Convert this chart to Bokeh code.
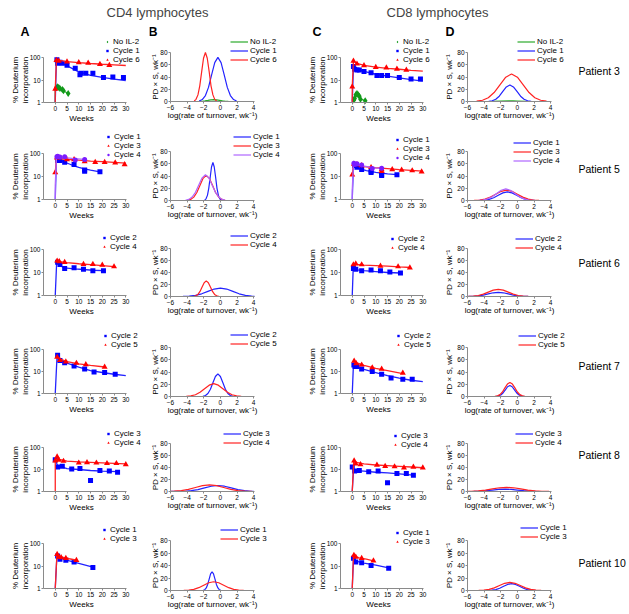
import math
from bokeh.plotting import figure
from bokeh.layouts import column, row
from bokeh.models import Legend, LegendItem, Label, FixedTicker, Range1d
from bokeh.embed import file_html
from bokeh.resources import INLINE

FONT = "Liberation Sans"

# ---------------- tick labels / text ----------------
PANEL_TITLES = ["CD4 lymphocytes", "CD8 lymphocytes"]
PANEL_LETTERS = ["A", "B", "C", "D"]
PATIENTS = ["Patient 3", "Patient 5", "Patient 6", "Patient 7", "Patient 8", "Patient 10"]
WEEK_TICKS = [0, 5, 10, 15, 20, 25, 30]
PCT_TICKS = [1, 10, 100]
RATE_TICKS = [-6, -4, -2, 0, 2, 4]
PDS_TICKS = [0, 20, 40, 60, 80]
KIN_YLABEL = ["% Deuterium", "incorporation"]
KIN_XLABEL = "Weeks"
DIST_YLABEL = "PD \u00d7 S, wk\u207b\u00b9"
DIST_XLABEL = "log(rate of turnover, wk\u207b\u00b9)"

# ---------------- Patient 3 ----------------
P3_CD4_N_WK = [0.5, 1, 1.5, 2, 3, 3.5, 5.5]
P3_CD4_N_PCT = [4.5, 5.0, 4.6, 4.2, 3.8, 3.3, 2.5]
P3_CD4_N_FWK = [0, 0, 1, 2, 3, 4, 5.5]
P3_CD4_N_FIT = [1, 4, 5, 4.3, 3.6, 3.1, 2.5]
P3_CD4_N_RATE = [-2.9, -2.55, -2.2, -1.85, -1.5, -1.15, -0.8, -0.45, -0.1, 0.25, 0.6, 0.95, 1.3]
P3_CD4_N_PDS = [0.03, 0.13, 0.4, 0.96, 1.8, 2.65, 3, 2.65, 1.8, 0.96, 0.4, 0.13, 0.03]
P3_CD4_C1_WK = [0.7, 1, 2, 3, 5, 8.5, 10.5, 11, 13, 16, 20.5, 24.5, 29]
P3_CD4_C1_PCT = [80, 55, 62, 55, 45, 33, 17, 20, 20, 20, 13, 13.5, 13]
P3_CD4_C1_FWK = [0, 0.5, 1, 2, 3, 5, 7.5, 10, 12.5, 15, 20, 25, 30]
P3_CD4_C1_FIT = [1, 85, 75, 65, 56, 43, 31, 23, 19, 16, 13, 11, 9.5]
P3_CD4_C1_RATE = [-2.55, -2.18, -1.8, -1.43, -1.05, -0.68, -0.3, 0.08, 0.45, 0.83, 1.2, 1.58, 1.95]
P3_CD4_C1_PDS = [0.8, 3.2, 9.7, 23, 44, 63.5, 72, 63.5, 44, 23, 9.7, 3.2, 0.8]
P3_CD4_C6_WK = [0, 0.5, 1.5, 5, 10, 14, 19, 23]
P3_CD4_C6_PCT = [4, 75, 70, 65, 60, 57, 50, 45]
P3_CD4_C6_FWK = [0, 0, 0.5, 5, 10, 15, 20, 25, 30]
P3_CD4_C6_FIT = [1, 4, 78, 66, 59, 54, 50, 47, 44]
P3_CD4_C6_RATE = [-3.15, -2.93, -2.7, -2.48, -2.25, -2.03, -1.8, -1.58, -1.35, -1.13, -0.9, -0.68, -0.45]
P3_CD4_C6_PDS = [0.9, 3.5, 10.8, 25.6, 48.8, 70.6, 80, 70.6, 48.8, 25.6, 10.8, 3.5, 0.9]

P3_CD8_N_WK = [0.7, 1, 1.5, 2, 2.5, 3, 3.5, 5.5]
P3_CD8_N_PCT = [1.3, 1.5, 2.2, 2.5, 2.2, 1.9, 1.4, 1.2]
P3_CD8_N_FWK = [0, 0.7, 1, 1.5, 2, 2.5, 3, 3.5, 5.5]
P3_CD8_N_FIT = [1, 1.3, 1.5, 2.2, 2.5, 2.2, 1.9, 1.4, 1.2]
P3_CD8_N_RATE = [-4, -3, -2, -1, -0.5, 0, 1, 2]
P3_CD8_N_PDS = [0, 0.3, 0.7, 1, 1, 0.8, 0.3, 0]
P3_CD8_C1_WK = [0.5, 1, 2, 3, 5, 8, 10.5, 12.5, 15, 20, 25, 29]
P3_CD8_C1_PCT = [40, 30, 28, 28, 24, 21, 16, 16, 16, 13, 11, 11]
P3_CD8_C1_FWK = [0, 0.5, 2, 5, 10, 15, 20, 25, 30]
P3_CD8_C1_FIT = [1, 38, 30, 24, 18, 15, 12.5, 10.5, 9]
P3_CD8_C1_RATE = [-3.45, -3.03, -2.6, -2.18, -1.75, -1.33, -0.9, -0.48, -0.05, 0.38, 0.8, 1.23, 1.65]
P3_CD8_C1_PDS = [0.3, 1.2, 3.65, 8.6, 16.4, 23.8, 27, 23.8, 16.4, 8.6, 3.65, 1.2, 0.3]
P3_CD8_C6_WK = [0, 0.5, 2, 5, 10, 14.5, 19, 23]
P3_CD8_C6_PCT = [5, 70, 52, 44, 37, 35, 31, 28]
P3_CD8_C6_FWK = [0, 0, 0.5, 2, 5, 10, 15, 20, 25, 30]
P3_CD8_C6_FIT = [1, 5, 70, 55, 45, 37, 33, 30, 27, 25]
P3_CD8_C6_RATE = [-4.9, -4.2, -3.5, -2.8, -2.1, -1.4, -0.7, 0, 0.7, 1.4, 2.1, 2.8, 3.5]
P3_CD8_C6_PDS = [0.5, 2, 6.1, 14.6, 27.3, 39.7, 45, 39.7, 27.3, 14.6, 6.1, 2, 0.5]

# ---------------- Patient 5 ----------------
P5_CD4_C1_WK = [1, 2, 4, 8, 12.5, 12.5, 19]
P5_CD4_C1_PCT = [50, 50, 42, 33, 17, 19, 16]
P5_CD4_C1_FWK = [0, 0.5, 2, 4, 6, 8, 10, 12, 15, 19]
P5_CD4_C1_FIT = [1, 60, 52, 42, 35, 29, 25, 22, 19, 16]
P5_CD4_C1_RATE = [-1.89, -1.73, -1.56, -1.4, -1.23, -1.07, -0.9, -0.74, -0.57, -0.41, -0.24, -0.08, 0.09]
P5_CD4_C1_PDS = [0.7, 2.7, 8.4, 19.9, 37.6, 54.7, 62, 54.7, 37.6, 19.9, 8.4, 2.7, 0.7]
P5_CD4_C3_WK = [0, 0.7, 5, 8, 12.5, 17, 21, 25.5, 29.5]
P5_CD4_C3_PCT = [15, 65, 55, 55, 45, 42, 42, 40, 33]
P5_CD4_C3_FWK = [0, 0.5, 5, 10, 15, 20, 25, 30]
P5_CD4_C3_FIT = [15, 62, 56, 51, 47, 44, 41, 38]
P5_CD4_C3_RATE = [-3.95, -3.58, -3.2, -2.83, -2.45, -2.08, -1.7, -1.33, -0.95, -0.58, -0.2, 0.18, 0.55]
P5_CD4_C3_PDS = [0.45, 1.8, 5.5, 13.1, 24.9, 36.2, 41, 36.2, 24.9, 13.1, 5.5, 1.8, 0.45]
P5_CD4_C4_WK = [0.7, 1, 2, 4, 8.5, 12.5]
P5_CD4_C4_PCT = [72, 75, 70, 72, 52, 55]
P5_CD4_C4_FWK = [0, 0, 0.5, 4, 8, 12.5]
P5_CD4_C4_FIT = [1, 4, 72, 66, 60, 55]
P5_CD4_C4_RATE = [-4.2, -3.8, -3.4, -3.0, -2.6, -2.2, -1.8, -1.4, -1.0, -0.6, -0.2, 0.2, 0.6]
P5_CD4_C4_PDS = [0.46, 1.85, 5.7, 13.4, 25.5, 37, 42, 37, 25.5, 13.4, 5.7, 1.85, 0.46]

P5_CD8_C1_WK = [1, 2, 4, 8, 8, 12.5, 12.5, 19]
P5_CD8_C1_PCT = [30, 25, 20, 17, 15, 12, 11, 12]
P5_CD8_C1_FWK = [0, 0.5, 3, 6, 10, 15, 19]
P5_CD8_C1_FIT = [1, 30, 22, 18, 15, 13, 12]
P5_CD8_C1_RATE = [-4.5, -3.95, -3.4, -2.85, -2.3, -1.75, -1.2, -0.65, -0.1, 0.45, 1.0, 1.55, 2.1]
P5_CD8_C1_PDS = [0.15, 0.6, 1.9, 4.5, 8.5, 12.4, 14, 12.4, 8.5, 4.5, 1.9, 0.6, 0.15]
P5_CD8_C3_WK = [0, 0.7, 2, 4, 8, 12.5, 12.5, 17, 21, 25.5, 29.5]
P5_CD8_C3_PCT = [12, 35, 33, 30, 25, 20, 17, 20, 19, 18, 16]
P5_CD8_C3_FWK = [0, 0.5, 5, 10, 15, 20, 25, 30]
P5_CD8_C3_FIT = [12, 33, 27, 24, 22, 20, 18.5, 17]
P5_CD8_C3_RATE = [-5.2, -4.55, -3.9, -3.25, -2.6, -1.95, -1.3, -0.65, 0, 0.65, 1.3, 1.95, 2.6]
P5_CD8_C3_PDS = [0.19, 0.75, 2.3, 5.5, 10.3, 15, 17, 15, 10.3, 5.5, 2.3, 0.75, 0.19]
P5_CD8_C4_WK = [0.7, 1, 2, 4, 8.5, 12.5]
P5_CD8_C4_PCT = [38, 33, 36, 32, 22, 23]
P5_CD8_C4_FWK = [0, 0, 0.5, 4, 8, 12.5]
P5_CD8_C4_FIT = [1, 2.5, 37, 30, 25, 22]
P5_CD8_C4_RATE = [-4.7, -4.15, -3.6, -3.05, -2.5, -1.95, -1.4, -0.85, -0.3, 0.25, 0.8, 1.35, 1.9]
P5_CD8_C4_PDS = [0.2, 0.84, 2.6, 6.2, 11.5, 16.8, 19, 16.8, 11.5, 6.2, 2.6, 0.84, 0.2]

# ---------------- Patient 6 ----------------
P6_CD4_C2_WK = [1, 2, 4, 8, 12, 16, 20.5]
P6_CD4_C2_PCT = [28, 22, 15, 16, 14, 12, 12]
P6_CD4_C2_FWK = [0, 0.6, 2, 4, 8, 12, 16, 20.5]
P6_CD4_C2_FIT = [1, 28, 20, 16, 14.5, 13.5, 12.5, 12]
P6_CD4_C2_RATE = [-6, -4.5, -3.75, -3, -2.25, -1.5, -0.75, 0, 0.75, 1.5, 2.25, 3, 3.75, 4.1]
P6_CD4_C2_PDS = [0, 0.15, 0.6, 1.9, 4.5, 8.5, 12.4, 14, 12.4, 8.5, 4.5, 1.9, 0.6, 0.4]
P6_CD4_C4_WK = [0.8, 1.7, 4, 12, 16, 20, 25]
P6_CD4_C4_PCT = [32, 30, 28, 23, 23, 21, 18]
P6_CD4_C4_FWK = [0.5, 5, 10, 15, 20, 25]
P6_CD4_C4_FIT = [31, 27, 24, 22, 20, 18]
P6_CD4_C4_RATE = [-3.2, -2.95, -2.7, -2.45, -2.2, -1.95, -1.7, -1.45, -1.2, -0.95, -0.7, -0.45, -0.2]
P6_CD4_C4_PDS = [0.3, 1.1, 3.5, 8.4, 15.9, 23, 26, 23, 15.9, 8.4, 3.5, 1.1, 0.3]

P6_CD8_C2_WK = [0.5, 1.5, 4, 8, 12, 16, 20.5]
P6_CD8_C2_PCT = [15, 14, 12, 13, 12, 10.5, 9.5]
P6_CD8_C2_FWK = [0, 0.4, 2, 5, 10, 15, 20.5]
P6_CD8_C2_FIT = [1, 15, 13, 12, 11, 10, 9.5]
P6_CD8_C2_RATE = [-5.9, -5.3, -4.7, -4.1, -3.5, -2.9, -2.3, -1.7, -1.1, -0.5, 0.1, 0.7, 1.3]
P6_CD8_C2_PDS = [0.08, 0.3, 0.95, 2.25, 4.25, 6.2, 7, 6.2, 4.25, 2.25, 0.95, 0.3, 0.08]
P6_CD8_C4_WK = [0.5, 1.5, 4, 12, 19.5, 24.5]
P6_CD8_C4_PCT = [22, 24, 22, 19, 18, 16]
P6_CD8_C4_FWK = [0.5, 5, 10, 15, 20, 25]
P6_CD8_C4_FIT = [23, 21, 20, 19, 17.5, 16.5]
P6_CD8_C4_RATE = [-5.9, -5.3, -4.7, -4.1, -3.5, -2.9, -2.3, -1.7, -1.1, -0.5, 0.1, 0.7, 1.3]
P6_CD8_C4_PDS = [0.13, 0.53, 1.6, 3.9, 7.3, 10.6, 12, 10.6, 7.3, 3.9, 1.6, 0.53, 0.13]

# ---------------- Patient 7 ----------------
P7_CD4_C2_WK = [1, 2, 4, 8, 12.5, 16.5, 21, 25.5]
P7_CD4_C2_PCT = [55, 32, 25, 18, 13, 9.5, 9, 7.5]
P7_CD4_C2_FWK = [0, 0.8, 2, 5, 10, 15, 20, 25, 30]
P7_CD4_C2_FIT = [1, 60, 35, 24, 16, 11, 9, 7.5, 6.5]
P7_CD4_C2_RATE = [-2.1, -1.8, -1.5, -1.2, -0.9, -0.6, -0.3, 0, 0.3, 0.6, 0.9, 1.2, 1.5]
P7_CD4_C2_PDS = [0.4, 1.6, 5, 11.9, 22.4, 32.6, 37, 32.6, 22.4, 11.9, 5, 1.6, 0.4]
P7_CD4_C5_WK = [0.8, 2, 4.5, 9, 13, 21]
P7_CD4_C5_PCT = [45, 32, 28, 24, 21, 16]
P7_CD4_C5_FWK = [0.8, 5, 10, 15, 21]
P7_CD4_C5_FIT = [42, 28, 22, 19, 16]
P7_CD4_C5_RATE = [-4.1, -3.55, -3, -2.45, -1.9, -1.35, -0.8, -0.25, 0.3, 0.85, 1.4, 1.95, 2.5]
P7_CD4_C5_PDS = [0.23, 0.9, 2.8, 6.8, 12.7, 18.5, 21, 18.5, 12.7, 6.8, 2.8, 0.9, 0.23]

P7_CD8_C2_WK = [0.7, 1.2, 2, 4, 8.5, 12.5, 16.5, 21.5, 25.5]
P7_CD8_C2_PCT = [20, 17, 17, 13, 10, 7.5, 5, 4.5, 4.5]
P7_CD8_C2_FWK = [0, 0.5, 2, 5, 10, 15, 20, 25, 30]
P7_CD8_C2_FIT = [1, 20, 16, 12.5, 9, 6.5, 5, 4, 3.5]
P7_CD8_C2_RATE = [-2.55, -2.28, -2, -1.73, -1.45, -1.18, -0.9, -0.63, -0.35, -0.08, 0.2, 0.48, 0.75]
P7_CD8_C2_PDS = [0.2, 0.8, 2.4, 5.8, 10.9, 15.9, 18, 15.9, 10.9, 5.8, 2.4, 0.8, 0.2]
P7_CD8_C5_WK = [0.8, 1.7, 4, 8.5, 12.5, 21.5]
P7_CD8_C5_PCT = [30, 23, 20, 15, 13, 8.5]
P7_CD8_C5_FWK = [0.5, 5, 10, 15, 21.5]
P7_CD8_C5_FIT = [28, 19, 14, 11, 8]
P7_CD8_C5_RATE = [-2.7, -2.4, -2.1, -1.8, -1.5, -1.2, -0.9, -0.6, -0.3, 0, 0.3, 0.6, 0.9]
P7_CD8_C5_PDS = [0.25, 1, 3.1, 7.4, 14, 20.3, 23, 20.3, 14, 7.4, 3.1, 1, 0.25]

# ---------------- Patient 8 ----------------
P8_CD4_C3_WK = [0, 1, 3, 7, 10.5, 15, 19, 23, 26.5]
P8_CD4_C3_PCT = [28, 13, 14, 10.5, 11, 3.2, 9, 8.5, 7.5]
P8_CD4_C3_FWK = [0, 1, 5, 10, 15, 20, 26.5]
P8_CD4_C3_FIT = [28, 15, 11, 10, 9, 8.5, 8]
P8_CD4_C3_RATE = [-6, -5.1, -4.3, -3.5, -2.7, -1.9, -1.1, -0.3, 0.5, 1.3, 2.1, 2.9, 3.7, 4]
P8_CD4_C3_PDS = [0.05, 0.1, 0.44, 1.35, 3.2, 6.1, 8.8, 10, 8.8, 6.1, 3.2, 1.35, 0.44, 0.3]
P8_CD4_C4_WK = [0, 0.8, 1.5, 3.5, 10, 13.5, 17.5, 22, 26, 30]
P8_CD4_C4_PCT = [25, 38, 27, 24, 20, 21, 20, 19, 19, 17]
P8_CD4_C4_FWK = [0, 0, 0.8, 5, 10, 15, 20, 25, 30]
P8_CD4_C4_FIT = [1, 25, 30, 24, 22, 21, 20, 19, 18]
P8_CD4_C4_RATE = [-6, -5.55, -4.7, -3.85, -3, -2.15, -1.3, -0.45, 0.4, 1.25, 2.1, 2.95, 3.8]
P8_CD4_C4_PDS = [0.25, 0.48, 1.5, 3.6, 6.7, 9.7, 11, 9.7, 6.7, 3.6, 1.5, 0.48, 0.12]

P8_CD8_C3_WK = [0, 1, 3, 7, 11, 15, 19, 23, 26]
P8_CD8_C3_PCT = [13, 8.5, 9, 8, 8.5, 2.5, 6.5, 6.5, 5.5]
P8_CD8_C3_FWK = [0, 0.5, 5, 10, 15, 20, 26]
P8_CD8_C3_FIT = [1, 9, 8.5, 7.5, 7, 6.3, 5.5]
P8_CD8_C3_RATE = [-6, -5.25, -4.5, -3.75, -3, -2.25, -1.5, -0.75, 0, 0.75, 1.5, 2.25, 3, 3.75]
P8_CD8_C3_PDS = [0.04, 0.18, 0.54, 1.3, 2.4, 3.5, 4, 3.5, 2.4, 1.3, 0.54, 0.18, 0.04, 0.01]
P8_CD8_C4_WK = [0.8, 1.5, 3.5, 10.5, 14, 18, 22, 26, 30]
P8_CD8_C4_PCT = [25, 18, 17, 16, 14, 13.5, 12, 13, 12]
P8_CD8_C4_FWK = [0, 0.6, 5, 10, 15, 20, 25, 30]
P8_CD8_C4_FIT = [1, 22, 18, 16, 15, 14, 13, 12]
P8_CD8_C4_RATE = [-6, -5.55, -4.7, -3.85, -3, -2.15, -1.3, -0.45, 0.4, 1.25, 2.1, 2.95, 3.8]
P8_CD8_C4_PDS = [0.16, 0.31, 0.95, 2.3, 4.25, 6.2, 7, 6.2, 4.25, 2.3, 0.95, 0.31, 0.08]

# ---------------- Patient 10 ----------------
P10_CD4_C1_WK = [1, 2, 4.5, 8, 16]
P10_CD4_C1_PCT = [28, 20, 18, 15, 8.5]
P10_CD4_C1_FWK = [0, 0.7, 4, 8, 16]
P10_CD4_C1_FIT = [1, 28, 19, 15, 9]
P10_CD4_C1_RATE = [-2.05, -1.88, -1.7, -1.53, -1.35, -1.18, -1, -0.83, -0.65, -0.48, -0.3, -0.13, 0.05]
P10_CD4_C1_PDS = [0.33, 1.3, 4.1, 9.7, 18.2, 26.5, 30, 26.5, 18.2, 9.7, 4.1, 1.3, 0.33]
P10_CD4_C3_WK = [0.8, 1.5, 2.5, 4.5, 9]
P10_CD4_C3_PCT = [33, 25, 24, 22, 18]
P10_CD4_C3_FWK = [0, 0.7, 3, 6, 9]
P10_CD4_C3_FIT = [1, 32, 25, 21, 18]
P10_CD4_C3_RATE = [-4.4, -3.8, -3.2, -2.6, -2, -1.4, -0.8, -0.2, 0.4, 1, 1.6, 2.2, 2.8]
P10_CD4_C3_PDS = [0.15, 0.6, 1.9, 4.5, 8.5, 12.4, 14, 12.4, 8.5, 4.5, 1.9, 0.6, 0.15]

P10_CD8_C1_WK = [0.5, 1.5, 4, 8, 15.5]
P10_CD8_C1_PCT = [22, 15, 14, 10.5, 8]
P10_CD8_C1_FWK = [0, 0.5, 2, 5, 10, 15.5]
P10_CD8_C1_FIT = [1, 20, 16, 13.5, 11, 8.3]
P10_CD8_C1_RATE = [-3.55, -3.08, -2.6, -2.13, -1.65, -1.18, -0.7, -0.23, 0.25, 0.73, 1.2, 1.68, 2.15]
P10_CD8_C1_PDS = [0.12, 0.48, 1.5, 3.6, 6.7, 9.7, 11, 9.7, 6.7, 3.6, 1.5, 0.48, 0.12]
P10_CD8_C3_WK = [0.7, 1.5, 4, 9]
P10_CD8_C3_PCT = [30, 25, 22, 17]
P10_CD8_C3_FWK = [0, 0.5, 3, 6, 9]
P10_CD8_C3_FIT = [1, 28, 23, 20, 17]
P10_CD8_C3_RATE = [-4.65, -4.03, -3.4, -2.78, -2.15, -1.53, -0.9, -0.28, 0.35, 0.98, 1.6, 2.23, 2.85]
P10_CD8_C3_PDS = [0.14, 0.57, 1.75, 4.2, 7.9, 11.5, 13, 11.5, 7.9, 4.2, 1.75, 0.57, 0.14]


def S(label, color, wk, pct, fwk, fit, rate, pds):
    return dict(label=label, color=color, wk=wk, pct=pct, fwk=fwk, fit=fit, rate=rate, pds=pds)


ROWS_DATA = [
    ([S("No IL-2", "green", P3_CD4_N_WK, P3_CD4_N_PCT, P3_CD4_N_FWK, P3_CD4_N_FIT, P3_CD4_N_RATE, P3_CD4_N_PDS),
      S("Cycle 1", "blue", P3_CD4_C1_WK, P3_CD4_C1_PCT, P3_CD4_C1_FWK, P3_CD4_C1_FIT, P3_CD4_C1_RATE, P3_CD4_C1_PDS),
      S("Cycle 6", "red", P3_CD4_C6_WK, P3_CD4_C6_PCT, P3_CD4_C6_FWK, P3_CD4_C6_FIT, P3_CD4_C6_RATE, P3_CD4_C6_PDS)],
     [S("No IL-2", "green", P3_CD8_N_WK, P3_CD8_N_PCT, P3_CD8_N_FWK, P3_CD8_N_FIT, P3_CD8_N_RATE, P3_CD8_N_PDS),
      S("Cycle 1", "blue", P3_CD8_C1_WK, P3_CD8_C1_PCT, P3_CD8_C1_FWK, P3_CD8_C1_FIT, P3_CD8_C1_RATE, P3_CD8_C1_PDS),
      S("Cycle 6", "red", P3_CD8_C6_WK, P3_CD8_C6_PCT, P3_CD8_C6_FWK, P3_CD8_C6_FIT, P3_CD8_C6_RATE, P3_CD8_C6_PDS)]),
    ([S("Cycle 1", "blue", P5_CD4_C1_WK, P5_CD4_C1_PCT, P5_CD4_C1_FWK, P5_CD4_C1_FIT, P5_CD4_C1_RATE, P5_CD4_C1_PDS),
      S("Cycle 3", "red", P5_CD4_C3_WK, P5_CD4_C3_PCT, P5_CD4_C3_FWK, P5_CD4_C3_FIT, P5_CD4_C3_RATE, P5_CD4_C3_PDS),
      S("Cycle 4", "purple", P5_CD4_C4_WK, P5_CD4_C4_PCT, P5_CD4_C4_FWK, P5_CD4_C4_FIT, P5_CD4_C4_RATE, P5_CD4_C4_PDS)],
     [S("Cycle 1", "blue", P5_CD8_C1_WK, P5_CD8_C1_PCT, P5_CD8_C1_FWK, P5_CD8_C1_FIT, P5_CD8_C1_RATE, P5_CD8_C1_PDS),
      S("Cycle 3", "red", P5_CD8_C3_WK, P5_CD8_C3_PCT, P5_CD8_C3_FWK, P5_CD8_C3_FIT, P5_CD8_C3_RATE, P5_CD8_C3_PDS),
      S("Cycle 4", "purple", P5_CD8_C4_WK, P5_CD8_C4_PCT, P5_CD8_C4_FWK, P5_CD8_C4_FIT, P5_CD8_C4_RATE, P5_CD8_C4_PDS)]),
    ([S("Cycle 2", "blue", P6_CD4_C2_WK, P6_CD4_C2_PCT, P6_CD4_C2_FWK, P6_CD4_C2_FIT, P6_CD4_C2_RATE, P6_CD4_C2_PDS),
      S("Cycle 4", "red", P6_CD4_C4_WK, P6_CD4_C4_PCT, P6_CD4_C4_FWK, P6_CD4_C4_FIT, P6_CD4_C4_RATE, P6_CD4_C4_PDS)],
     [S("Cycle 2", "blue", P6_CD8_C2_WK, P6_CD8_C2_PCT, P6_CD8_C2_FWK, P6_CD8_C2_FIT, P6_CD8_C2_RATE, P6_CD8_C2_PDS),
      S("Cycle 4", "red", P6_CD8_C4_WK, P6_CD8_C4_PCT, P6_CD8_C4_FWK, P6_CD8_C4_FIT, P6_CD8_C4_RATE, P6_CD8_C4_PDS)]),
    ([S("Cycle 2", "blue", P7_CD4_C2_WK, P7_CD4_C2_PCT, P7_CD4_C2_FWK, P7_CD4_C2_FIT, P7_CD4_C2_RATE, P7_CD4_C2_PDS),
      S("Cycle 5", "red", P7_CD4_C5_WK, P7_CD4_C5_PCT, P7_CD4_C5_FWK, P7_CD4_C5_FIT, P7_CD4_C5_RATE, P7_CD4_C5_PDS)],
     [S("Cycle 2", "blue", P7_CD8_C2_WK, P7_CD8_C2_PCT, P7_CD8_C2_FWK, P7_CD8_C2_FIT, P7_CD8_C2_RATE, P7_CD8_C2_PDS),
      S("Cycle 5", "red", P7_CD8_C5_WK, P7_CD8_C5_PCT, P7_CD8_C5_FWK, P7_CD8_C5_FIT, P7_CD8_C5_RATE, P7_CD8_C5_PDS)]),
    ([S("Cycle 3", "blue", P8_CD4_C3_WK, P8_CD4_C3_PCT, P8_CD4_C3_FWK, P8_CD4_C3_FIT, P8_CD4_C3_RATE, P8_CD4_C3_PDS),
      S("Cycle 4", "red", P8_CD4_C4_WK, P8_CD4_C4_PCT, P8_CD4_C4_FWK, P8_CD4_C4_FIT, P8_CD4_C4_RATE, P8_CD4_C4_PDS)],
     [S("Cycle 3", "blue", P8_CD8_C3_WK, P8_CD8_C3_PCT, P8_CD8_C3_FWK, P8_CD8_C3_FIT, P8_CD8_C3_RATE, P8_CD8_C3_PDS),
      S("Cycle 4", "red", P8_CD8_C4_WK, P8_CD8_C4_PCT, P8_CD8_C4_FWK, P8_CD8_C4_FIT, P8_CD8_C4_RATE, P8_CD8_C4_PDS)]),
    ([S("Cycle 1", "blue", P10_CD4_C1_WK, P10_CD4_C1_PCT, P10_CD4_C1_FWK, P10_CD4_C1_FIT, P10_CD4_C1_RATE, P10_CD4_C1_PDS),
      S("Cycle 3", "red", P10_CD4_C3_WK, P10_CD4_C3_PCT, P10_CD4_C3_FWK, P10_CD4_C3_FIT, P10_CD4_C3_RATE, P10_CD4_C3_PDS)],
     [S("Cycle 1", "blue", P10_CD8_C1_WK, P10_CD8_C1_PCT, P10_CD8_C1_FWK, P10_CD8_C1_FIT, P10_CD8_C1_RATE, P10_CD8_C1_PDS),
      S("Cycle 3", "red", P10_CD8_C3_WK, P10_CD8_C3_PCT, P10_CD8_C3_FWK, P10_CD8_C3_FIT, P10_CD8_C3_RATE, P10_CD8_C3_PDS)]),
]

# ---------------- styles / geometry (page pixel coordinates) ----------------
STYLE = {
    "green": ("diamond", 7, "#12991a", "#2aaa2a"),
    "blue": ("square", 5, "#0000ff", "#2323ff"),
    "red": ("triangle", 6, "#ff0000", "#ff2323"),
    "purple": ("circle", 5, "#7b1cff", "#b066ff"),
}
AXIS_GRAY = "#8a8a8a"
PAGE_W = 629
HEADER_H = 21
COL_X = [0, 149, 300, 440, 629]
DATA_L = [43, 170, 340, 467]
DATA_W = [83, 84, 83, 84]
X_LIMS = [(-5, 30.3), (-6, 4.1), (-5, 30.3), (-6, 4.1)]
ROW_Y = [21, 125, 225, 322, 421, 517, 614]
KIN_TOP = [57, 153, 249, 349, 447, 543]
KIN_BOT = [102, 199, 295, 393, 491, 588]
DIST_TOP = [52, 151, 248, 347, 443, 540]
DIST_BOT = [101, 200, 296, 396, 491, 590]
LEG = [
    [(104, 41.7), (230, 41.7), (394, 41.7), (517, 41.7)],
    [(105, 136), (233, 136), (394, 139), (513, 142.7)],
    [(101, 237.7), (230, 235.7), (389, 238.3), (515, 238.3)],
    [(102, 335), (230, 334), (395, 335), (518, 335)],
    [(105, 433.3), (223, 433.3), (392, 435), (515, 433.3)],
    [(101, 529), (220, 529), (394, 532.3), (520, 527.7)],
]
YLAB_X = [(15, 25), (155,), (312, 322), (449,)]
PATIENT_Y = [70, 168, 262, 365, 454, 562]
PATIENT_X = 578
LETTER_X = [20, 148, 312, 445]
LETTER_MID = 31.5
TITLE_X = [157, 437]
TITLE_MID = 11.5
KIN_XLAB_DY = 16
DIST_XLAB_DY = 14
ROW_H = 9
MINUS = {-6: "\u22126", -4: "\u22124", -2: "\u22122"}


def page_label(p, c, r, px, py, text, size, angle=0.0, align="center", style="normal"):
    """Place a text centred vertically at page pixel (px, py) inside the figure of column c / row r."""
    p.add_layout(Label(x=px - COL_X[c], y=ROW_Y[r + 1] - py, x_units="screen",
                       y_units="screen", text=text, angle=angle, text_font=FONT,
                       text_font_size=size, text_align=align, text_baseline="middle",
                       text_font_style=style, text_color="black"))


def make_panel(r, c, series):
    kin = c in (0, 2)
    top = KIN_TOP[r] if kin else DIST_TOP[r]
    bot = KIN_BOT[r] if kin else DIST_BOT[r]
    w = COL_X[c + 1] - COL_X[c]
    h = ROW_Y[r + 1] - ROW_Y[r]
    x0, x1 = X_LIMS[c]
    ppx = DATA_W[c] / (x1 - x0)
    xs = x0 - (DATA_L[c] - COL_X[c]) / ppx
    xe = x1 + (COL_X[c + 1] - DATA_L[c] - DATA_W[c]) / ppx
    if kin:
        ppd = (bot - top) / 2.0
        ys = 10 ** (-(ROW_Y[r + 1] - bot) / ppd)
        ye = 10 ** (2 + (top - ROW_Y[r]) / ppd)
        p = figure(width=w, height=h, x_range=Range1d(xs, xe), y_range=Range1d(ys, ye),
                   y_axis_type="log", output_backend="svg", toolbar_location=None)
        y0, y1 = 1, 100
    else:
        ppv = (bot - top) / 80.0
        ys = -(ROW_Y[r + 1] - bot) / ppv
        ye = 80 + (top - ROW_Y[r]) / ppv
        p = figure(width=w, height=h, x_range=Range1d(xs, xe), y_range=Range1d(ys, ye),
                   output_backend="svg", toolbar_location=None)
        y0, y1 = 0, 80
    p.min_border = 0
    p.min_border_left = 0
    p.min_border_right = 0
    p.min_border_top = 0
    p.min_border_bottom = 0
    p.outline_line_color = None
    p.grid.visible = False
    p.background_fill_color = "white"
    p.border_fill_color = "white"

    p.xaxis.fixed_location = y0
    p.yaxis.fixed_location = x0
    p.xaxis.bounds = (x0, x1)
    p.yaxis.bounds = (y0, y1)
    for ax in p.axis:
        ax.axis_line_color = AXIS_GRAY
        ax.major_tick_line_color = AXIS_GRAY
        ax.minor_tick_line_color = None
        ax.major_tick_out = 2
        ax.major_tick_in = 0
        ax.major_label_text_font = FONT
        ax.major_label_text_font_size = "6.5px"
        ax.major_label_text_color = "black"
        ax.major_label_standoff = 1
    if kin:
        p.xaxis.ticker = FixedTicker(ticks=WEEK_TICKS)
        p.yaxis.ticker = FixedTicker(ticks=PCT_TICKS)
        p.yaxis.major_label_overrides = {1: "1", 10: "10", 100: "100"}
    else:
        p.xaxis.ticker = FixedTicker(ticks=RATE_TICKS)
        p.xaxis.major_label_overrides = MINUS
        p.yaxis.ticker = FixedTicker(ticks=PDS_TICKS)

    items = []
    for s in series:
        marker, size, mcol, lcol = STYLE[s["color"]]
        if kin:
            p.line(s["fwk"], s["fit"], line_color=lcol, line_width=1.3)
            rr = p.scatter(s["wk"], s["pct"], marker=marker, size=size,
                           fill_color=mcol, line_color=None)
        else:
            rr = p.line(s["rate"], s["pds"], line_color=lcol, line_width=1.2)
        items.append(LegendItem(label=s["label"], renderers=[rr]))

    gx, cy = LEG[r][c]
    n = len(series)
    vx = gx - COL_X[c]
    vy = ROW_Y[r + 1] - (cy - ROW_H / 2 + n * ROW_H)
    leg = Legend(items=items, location=(vx, vy), orientation="vertical",
                 glyph_width=6 if kin else 18, glyph_height=ROW_H, label_height=ROW_H,
                 label_width=10, spacing=0, padding=0, margin=0,
                 label_standoff=3 if kin else 2, border_line_color=None,
                 background_fill_alpha=0, label_text_font=FONT,
                 label_text_font_size="8px", label_text_color="black")
    p.add_layout(leg)

    # axis titles
    cyd = (top + bot) / 2.0
    cxd = DATA_L[c] + DATA_W[c] / 2.0
    if kin:
        for xx, t in zip(YLAB_X[c], KIN_YLABEL):
            page_label(p, c, r, xx, cyd, t, "8px", angle=math.pi / 2)
        page_label(p, c, r, cxd - 3.5, bot + KIN_XLAB_DY, KIN_XLABEL, "8px")
    else:
        page_label(p, c, r, YLAB_X[c][0], cyd, DIST_YLABEL, "8px", angle=math.pi / 2)
        page_label(p, c, r, cxd, bot + DIST_XLAB_DY, DIST_XLABEL, "8px")

    if r == 0:
        page_label(p, c, r, LETTER_X[c], LETTER_MID, PANEL_LETTERS[c], "12.5px",
                   align="left", style="bold")
    if c == 3:
        page_label(p, c, r, PATIENT_X, PATIENT_Y[r], PATIENTS[r], "10.5px", align="left")
    return p


header = figure(width=PAGE_W, height=HEADER_H, x_range=Range1d(0, PAGE_W),
                y_range=Range1d(0, HEADER_H), output_backend="svg", toolbar_location=None,
                x_axis_location=None, y_axis_location=None)
header.min_border = 0
header.min_border_left = 0
header.min_border_right = 0
header.min_border_top = 0
header.min_border_bottom = 0
header.outline_line_color = None
header.grid.visible = False
for title, cx in zip(PANEL_TITLES, TITLE_X):
    header.add_layout(Label(x=cx, y=HEADER_H - TITLE_MID, x_units="screen", y_units="screen",
                            text=title, text_font=FONT, text_font_size="13px",
                            text_align="center", text_baseline="middle"))

rows = [header]
for r, (cd4, cd8) in enumerate(ROWS_DATA):
    figs = [make_panel(r, 0, cd4), make_panel(r, 1, cd4),
            make_panel(r, 2, cd8), make_panel(r, 3, cd8)]
    rows.append(row(*figs, spacing=0))

layout = column(*rows, spacing=0)
open("out.html", "w").write(file_html(layout, INLINE))
